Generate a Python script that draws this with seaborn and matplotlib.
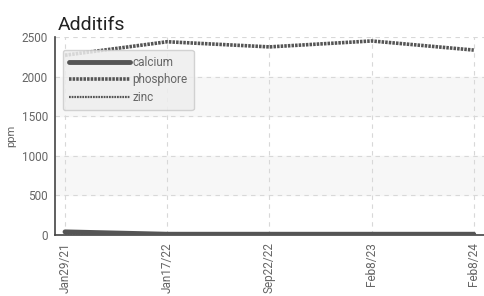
import matplotlib
matplotlib.use("Agg")
import matplotlib.pyplot as plt
import seaborn as sns
import pandas as pd

dates = ["Jan29/21", "Jan17/22", "Sep22/22", "Feb8/23", "Feb8/24"]
calcium = [40, 10, 10, 10, 10]
phosphore = [2270, 2440, 2375, 2450, 2335]
zinc = [15, 5, 5, 5, 5]

sns.set_theme(style="white")
plt.rcParams["font.family"] = ["Roboto", "DejaVu Sans"]

df = pd.DataFrame({"date": dates, "calcium": calcium,
                   "phosphore": phosphore, "zinc": zinc})
df["idx"] = range(len(df))
long = df.melt(id_vars=["date", "idx"], var_name="serie", value_name="ppm")

fig = plt.figure(figsize=(4.85, 2.96), dpi=100)
ax = fig.add_axes([0.113, 0.206, 0.887, 0.669])

# alternate bands
ax.axhspan(500, 1000, color="#f7f7f7", zorder=0)
ax.axhspan(1500, 2000, color="#f7f7f7", zorder=0)

styles = {
    "calcium": dict(lw=3.5, ls="-"),
    "phosphore": dict(lw=2.6, ls=(0, (0.7, 0.3))),
    "zinc": dict(lw=1.6, ls=(0, (0.8, 0.4))),
}
for name, st in styles.items():
    sub = long[long.serie == name]
    sns.lineplot(data=sub, x="idx", y="ppm", ax=ax, color="#555555",
                 label=name, linewidth=st["lw"], linestyle=st["ls"],
                 zorder=3)

ax.set_xlim(-0.1, 4.11)
ax.set_ylim(0, 2500)
ax.set_xticks(range(len(dates)))
ax.set_xticklabels(dates, rotation=90)
ax.set_yticks([0, 500, 1000, 1500, 2000, 2500])
ax.grid(True, color="#d8d8d8", linestyle=(0, (4, 4)), linewidth=0.8)
ax.set_axisbelow(True)

for s in ["top", "right"]:
    ax.spines[s].set_visible(False)
for s in ["left", "bottom"]:
    ax.spines[s].set_color("#444444")
    ax.spines[s].set_linewidth(1.2)

ax.tick_params(axis="both", colors="#666666", labelsize=8.5, length=4,
               width=1.2, direction="out", pad=1)
ax.tick_params(axis="both", color="#444444")
ax.set_xlabel("")
ax.set_ylabel("ppm", fontsize=8, color="#666666")
ax.yaxis.set_label_coords(-0.09, 0.5)
ax.set_title("Additifs", loc="left", fontsize=14, color="#222222",
             x=0.008, pad=5)

leg = ax.legend(loc="upper left", bbox_to_anchor=(0.005, 0.965),
                fontsize=8.5, handlelength=5.2, handletextpad=0.2,
                labelspacing=0.4, frameon=True, fancybox=True,
                borderpad=0.5)
leg.get_frame().set_facecolor("#eeeeee")
leg.get_frame().set_edgecolor("#cccccc")
leg.get_frame().set_alpha(0.85)
for t in leg.get_texts():
    t.set_color("#666666")

fig.savefig("out.png", dpi=100)
